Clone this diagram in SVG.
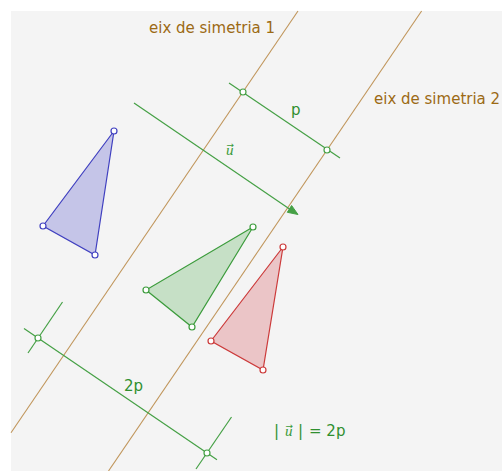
<svg xmlns="http://www.w3.org/2000/svg" width="502" height="471" viewBox="0 0 502 471">
<style>
.axis{stroke:#c0955a;stroke-width:1.1;fill:none}
.gl{stroke:#45a045;stroke-width:1.2;fill:none}
.pt{fill:#ffffff;stroke-width:1.2}
.lab{font-family:"DejaVu Sans",sans-serif;font-size:15px}
.brown{fill:#9c6a14}
.green{fill:#2f8f2f}
.vec{font-family:"Liberation Serif",serif;font-style:italic;font-size:15px;fill:#3a9a3a}
.arr{font-family:"DejaVu Sans",sans-serif;font-style:normal;font-size:9px}
</style>
<rect x="0" y="0" width="502" height="471" fill="#ffffff"/>
<rect x="11" y="11" width="491" height="460" fill="#f4f4f4"/>
<g id="axis1"><line class="axis" x1="298" y1="11" x2="11" y2="432.7"/></g>
<g id="axis2"><line class="axis" x1="421.6" y1="11" x2="108.5" y2="471"/></g>
<g id="label-axis1"><text class="lab brown" x="149" y="32.5">eix de simetria 1</text></g>
<g id="label-axis2"><text class="lab brown" x="374" y="104">eix de simetria 2</text></g>
<g id="triangle-blue">
<polygon points="114,131 43,226 95,255" fill="#c5c5e8" stroke="#4040c0" stroke-width="1.2"/>
<circle class="pt" cx="114" cy="131" r="3" stroke="#4040c0"/>
<circle class="pt" cx="43" cy="226" r="3" stroke="#4040c0"/>
<circle class="pt" cx="95" cy="255" r="3" stroke="#4040c0"/>
</g>
<g id="triangle-green">
<polygon points="253,227 146,290 192,327" fill="#c6e0c6" stroke="#3c9c3c" stroke-width="1.2"/>
<circle class="pt" cx="253" cy="227" r="3" stroke="#3c9c3c"/>
<circle class="pt" cx="146" cy="290" r="3" stroke="#3c9c3c"/>
<circle class="pt" cx="192" cy="327" r="3" stroke="#3c9c3c"/>
</g>
<g id="triangle-red">
<polygon points="283,247 211,341 263,370" fill="#ebc5c7" stroke="#cc3a3a" stroke-width="1.2"/>
<circle class="pt" cx="283" cy="247" r="3" stroke="#cc3a3a"/>
<circle class="pt" cx="211" cy="341" r="3" stroke="#cc3a3a"/>
<circle class="pt" cx="263" cy="370" r="3" stroke="#cc3a3a"/>
</g>
<g id="connectors">
<g id="segment-p">
<line class="gl" x1="229" y1="83" x2="340" y2="158"/>
<circle class="pt" cx="243" cy="92" r="3" stroke="#45a045"/>
<circle class="pt" cx="327" cy="150" r="3" stroke="#45a045"/>
</g>
<g id="vector-u">
<line class="gl" x1="134" y1="103" x2="291" y2="210"/>
<polygon points="298,214.5 287.3,212.3 291.6,205.5" fill="#45a045" stroke="#45a045" stroke-width="1"/>
</g>
<g id="segment-2p">
<line class="gl" x1="24" y1="328.4" x2="217" y2="459.7"/>
<line class="gl" x1="62.5" y1="302" x2="28" y2="353"/>
<line class="gl" x1="231.5" y1="417" x2="196" y2="469"/>
<circle class="pt" cx="38" cy="338" r="3" stroke="#45a045"/>
<circle class="pt" cx="207" cy="453" r="3" stroke="#45a045"/>
</g>
</g>
<g id="label-p"><text class="lab green" x="291" y="115">p</text></g>
<g id="label-u"><text class="vec" x="226" y="155">u<tspan class="arr" x="226.5" y="147.5">→</tspan></text></g>
<g id="label-2p"><text class="lab green" x="124" y="391">2p</text></g>
<g id="label-norm">
<text class="lab green" x="274" y="436">|<tspan class="vec" x="285" y="436">u</tspan><tspan class="arr" x="285.5" y="428.5" fill="#3a9a3a">→</tspan><tspan x="298" y="436">|</tspan><tspan x="309" y="436">= 2p</tspan></text>
</g>
</svg>
